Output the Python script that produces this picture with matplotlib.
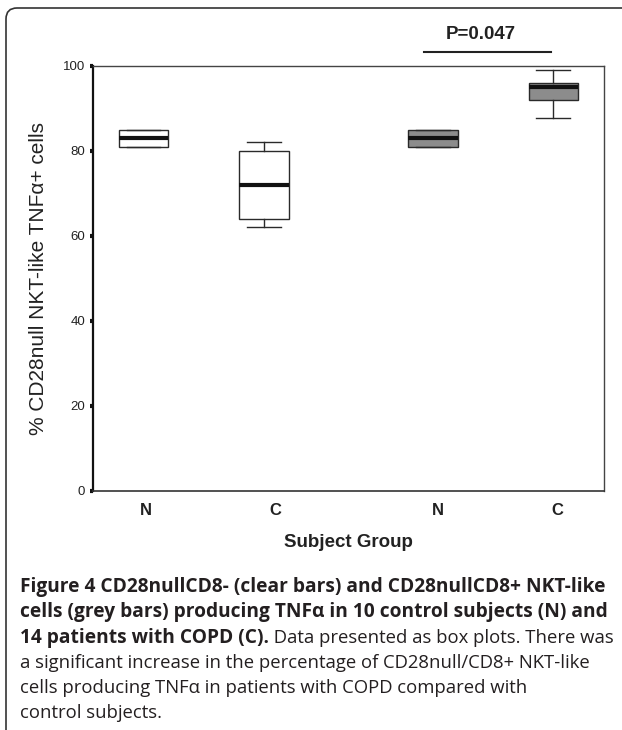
import matplotlib
matplotlib.use("Agg")
import matplotlib.pyplot as plt
from matplotlib.patches import FancyBboxPatch

# data (% CD28null NKT-like TNFa+ cells)
groups = ["N", "C", "N", "C"]
positions = [1.0, 2.0, 3.4, 4.4]
label_pos = [1.02, 2.09, 3.44, 4.43]   # group labels sit a little off the boxes
whis_lo = [81.0, 62.0, 81.0, 87.8]
q1 = [81.0, 64.0, 81.0, 92.0]
medians = [83.0, 72.0, 83.0, 95.0]
q3 = [85.0, 80.0, 85.0, 96.0]
whis_hi = [85.0, 82.0, 85.0, 99.0]
fills = ["white", "white", "#8c8c8c", "#8c8c8c"]
p_text = "P=0.047"

yticks = [0, 20, 40, 60, 80, 100]

caption_lines = [
    [("Figure 4 CD28nullCD8- (clear bars) and CD28nullCD8+ NKT-like", "bold")],
    [("cells (grey bars) producing TNF\u03b1 in 10 control subjects (N) and", "bold")],
    [("14 patients with COPD (C).", "bold"),
     (" Data presented as box plots. There was", "normal")],
    [("a significant increase in the percentage of CD28null/CD8+ NKT-like", "normal")],
    [("cells producing TNF\u03b1 in patients with COPD compared with", "normal")],
    [("control subjects.", "normal")],
]

plt.rcParams["font.family"] = ["Liberation Sans", "DejaVu Sans"]

fig = plt.figure(figsize=(6.22, 7.30), dpi=100)
ax = fig.add_axes([0.1495, 0.3274, 0.8215, 0.5822])

stats = []
for i in range(len(groups)):
    stats.append(dict(whislo=whis_lo[i], q1=q1[i], med=medians[i],
                      q3=q3[i], whishi=whis_hi[i], fliers=[]))

bp = ax.bxp(stats, positions=positions, widths=0.41, patch_artist=True,
            showfliers=False,
            boxprops=dict(edgecolor="#2a2a2a", linewidth=1.0),
            medianprops=dict(color="#111111", linewidth=3.0, solid_capstyle="butt"),
            whiskerprops=dict(color="#2a2a2a", linewidth=1.0),
            capprops=dict(color="#2a2a2a", linewidth=1.0),
            capwidths=0.28)
for patch, fc in zip(bp["boxes"], fills):
    patch.set_facecolor(fc)

ax.set_xlim(0.58, 4.82)
ax.set_ylim(0, 100)
ax.set_yticks(yticks)
ax.set_yticklabels([str(v) for v in yticks], fontsize=9.5, color="#222222")
ax.tick_params(axis="y", direction="out", length=2.5, width=3, color="#111111", pad=3)
ax.set_xticks(label_pos)
ax.set_xticklabels(groups, fontsize=12, fontweight="bold", color="#222222")
ax.tick_params(axis="x", length=0, pad=9)

ax.spines["left"].set_linewidth(1.6)
ax.spines["left"].set_color("#111111")
ax.spines["bottom"].set_linewidth(1.2)
ax.spines["bottom"].set_color("#333333")
for s in ["top", "right"]:
    ax.spines[s].set_linewidth(1.0)
    ax.spines[s].set_color("#444444")

ax.set_ylabel("% CD28null NKT-like TNF\u03b1+ cells", fontsize=15, color="#222222",
              labelpad=11)
ax.set_xlabel("Subject Group", fontsize=13.5, fontweight="bold", color="#222222",
              labelpad=11)

# significance bar between the two grey boxes
x0 = positions[2] - 0.07
x1 = positions[3] - 0.02
ax.plot([x0, x1], [103.3, 103.3], color="#222222", lw=1.5, clip_on=False)
ax.text((x0 + x1) / 2 - 0.06, 105.5, p_text, ha="center", va="bottom",
        fontsize=13.5, fontweight="bold", color="#222222", clip_on=False)

# rounded frame round the figure panel
frame = FancyBboxPatch((6, -30), 700, 752, boxstyle="round,pad=0,rounding_size=11",
                       transform=None, facecolor="none", edgecolor="#333333",
                       linewidth=1.2)
fig.add_artist(frame)

# caption
renderer = fig.canvas.get_renderer()
cap_size = {"bold": 13.8, "normal": 13.3}
y = 730 - 587
for line in caption_lines:
    x = 20
    for txt, weight in line:
        t = fig.text(x, y, txt, transform=None, fontsize=cap_size[weight],
                     fontweight=weight, family=["Open Sans", "DejaVu Sans"],
                     color="#231f20", va="center", ha="left")
        x = t.get_window_extent(renderer).x1
    y -= 25.3

fig.savefig("out.png", dpi=100)
